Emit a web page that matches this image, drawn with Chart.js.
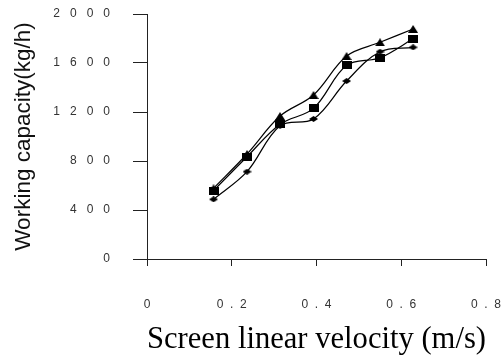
<!DOCTYPE html>
<html>
<head>
<meta charset="utf-8">
<script src="https://cdn.jsdelivr.net/npm/chart.js@4"></script>
<style>
    body { margin: 0; background: #fff; }
</style>
</head>
<body>
<canvas id="myChart" width="501" height="360"></canvas>
<script>
// screen linear velocity (m/s)
const velocity = [0.157, 0.236, 0.314, 0.393, 0.471, 0.550, 0.628];
// working capacity (kg/h), one list per marker
const capDiamond = [487, 713, 1088, 1143, 1453, 1692, 1728];
const capSquare = [558, 835, 1100, 1230, 1581, 1643, 1798];
const capTriangle = [577, 857, 1167, 1339, 1657, 1769, 1878];

const xTicks = [0, 0.2, 0.4, 0.6, 0.8];
const yTicks = [0, 400, 800, 1200, 1600, 2000];

// spread the characters of a tick label apart
function spaced(str, gap) {
    return str.split("").join(gap);
}

function points(ys) {
    return velocity.map((v, i) => ({x: v, y: ys[i]}));
}

// the markers in the picture are a bit squashed, so draw them as small images
function marker(w, h, shape) {
    const c = document.createElement("canvas");
    c.width = w;
    c.height = h;
    const g = c.getContext("2d");
    g.fillStyle = "#000";
    g.beginPath();
    if (shape === "diamond") {
        g.moveTo(w / 2, 0); g.lineTo(w, h / 2); g.lineTo(w / 2, h); g.lineTo(0, h / 2);
    } else if (shape === "triangle") {
        g.moveTo(w / 2, 0); g.lineTo(w, h); g.lineTo(0, h);
    } else {
        g.rect(0, 0, w, h);
    }
    g.closePath();
    g.fill();
    return c;
}

function series(ys, style) {
    return {
        data: points(ys),
        borderColor: "#000",
        backgroundColor: "#000",
        borderWidth: 1.2,
        pointStyle: style,
        pointRadius: 5,
        tension: 0.35
    };
}

const ctx = document.getElementById("myChart").getContext("2d");
const chart = new Chart(ctx, {
    type: "line",
    data: {
        datasets: [
            series(capDiamond, marker(9, 6, "diamond")),
            series(capSquare, marker(10, 8, "square")),
            series(capTriangle, marker(10, 8, "triangle"))
        ]
    },
    options: {
        responsive: false,
        animation: false,
        layout: {
            padding: {top: 14, right: 15, left: 0, bottom: 0}
        },
        scales: {
            x: {
                type: "linear",
                min: 0,
                max: 0.8,
                afterBuildTicks: (scale) => {
                    scale.ticks = xTicks.map(v => ({value: v}));
                },
                afterFit: (scale) => {
                    scale.height = 101;
                    // the layout padding already leaves room for the end labels
                    scale.paddingLeft = 0;
                    scale.paddingRight = 0;
                },
                grid: {
                    drawOnChartArea: false,
                    drawTicks: true,
                    tickLength: 7,
                    color: "#222"
                },
                border: {display: true, color: "#222", width: 1},
                ticks: {
                    padding: 31,
                    maxRotation: 0,
                    autoSkip: false,
                    color: "#333",
                    font: {family: "'Liberation Sans', Arial", size: 12},
                    callback: (v) => v === 0 ? "0" : spaced(v.toFixed(1), "  ")
                },
                title: {
                    display: true,
                    text: "Screen linear velocity (m/s)",
                    color: "#000",
                    font: {family: "'Liberation Serif', 'Times New Roman'", size: 32},
                    padding: {top: 0, bottom: 1}
                }
            },
            y: {
                min: 0,
                max: 2000,
                afterBuildTicks: (scale) => {
                    scale.ticks = yTicks.map(v => ({value: v}));
                },
                afterFit: (scale) => {
                    scale.width = 147;
                    scale.paddingTop = 0;
                    scale.paddingBottom = 0;
                },
                grid: {
                    drawOnChartArea: false,
                    drawTicks: true,
                    tickLength: 14,
                    color: "#222"
                },
                border: {display: true, color: "#222", width: 1},
                ticks: {
                    padding: 23,
                    color: "#333",
                    font: {family: "'Liberation Sans', Arial", size: 12},
                    callback: (v) => spaced(String(v), "   ")
                },
                title: {
                    display: true,
                    text: "Working capacity(kg/h)",
                    color: "#111",
                    font: {family: "'Liberation Sans', Arial", size: 22.5},
                    padding: {top: 10, bottom: 0}
                }
            }
        },
        plugins: {
            legend: {display: false},
            tooltip: {enabled: false}
        }
    }
});
</script>
</body>
</html>
